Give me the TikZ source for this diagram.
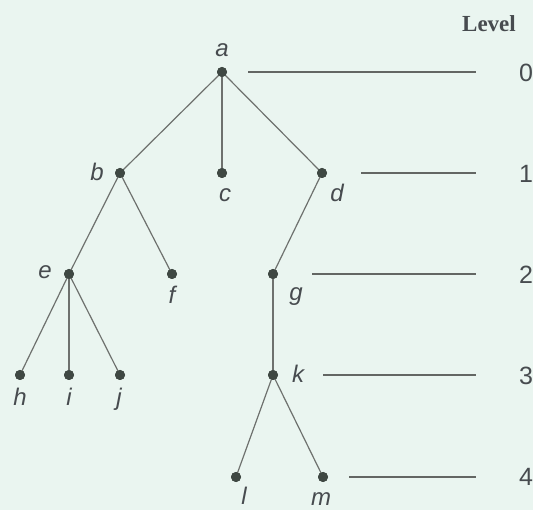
\documentclass[tikz,border=0pt]{standalone}
\usepackage{fontspec}
\setmainfont{Liberation Sans}
\newfontfamily\lvlfont{Liberation Serif}
\definecolor{bgc}{HTML}{EAF5F0}
\definecolor{dotc}{HTML}{3F4843}
\definecolor{edgec}{HTML}{6E716E}
\definecolor{txtc}{HTML}{474B4F}
\begin{document}
\begin{tikzpicture}[x=1pt,y=-1pt,
  vtx/.style={circle,fill=dotc,inner sep=0pt,minimum size=10pt},
  edge/.style={draw=edgec,line width=1.2pt},
  lvline/.style={draw=edgec!90!black,line width=1.2pt},
  lab/.style={text=txtc,font=\fontsize{24}{24}\selectfont\itshape,inner sep=0pt},
  num/.style={text=txtc,font=\fontsize{25}{25}\selectfont,inner sep=0pt}]
\fill[bgc] (0,0) rectangle (533,510);
\useasboundingbox (0,0) rectangle (533,510);
% vertices
\node[vtx] (a) at (222,72) {};
\node[vtx] (b) at (120,173) {};
\node[vtx] (c) at (222,173) {};
\node[vtx] (d) at (322,173) {};
\node[vtx] (e) at (69,274) {};
\node[vtx] (f) at (172,274) {};
\node[vtx] (g) at (273,274) {};
\node[vtx] (h) at (20,375) {};
\node[vtx] (i) at (69,375) {};
\node[vtx] (j) at (120,375) {};
\node[vtx] (k) at (273,375) {};
\node[vtx] (l) at (236,477) {};
\node[vtx] (m) at (323,477) {};
% edges
\draw[edge] (a.center) -- (b.center);
\draw[edge] (a.center) -- (c.center);
\draw[edge] (a.center) -- (d.center);
\draw[edge] (b.center) -- (e.center);
\draw[edge] (b.center) -- (f.center);
\draw[edge] (d.center) -- (g.center);
\draw[edge] (e.center) -- (h.center);
\draw[edge] (e.center) -- (i.center);
\draw[edge] (e.center) -- (j.center);
\draw[edge] (g.center) -- (k.center);
\draw[edge] (k.center) -- (l.center);
\draw[edge] (k.center) -- (m.center);
\foreach \v in {a,b,c,d,e,f,g,h,i,j,k,l,m} {\node[vtx] at (\v) {};}
% labels
\node[lab] (la) at (222,50) {a};
\node[lab] (lb) at (97,172) {b};
\node[lab] (lc) at (225,195) {c};
\node[lab] (ld) at (337,193) {d};
\node[lab] (le) at (45,272) {e};
\node[lab] (lf) at (172,295) {f};
\node[lab] (lg) at (296,297) {g};
\node[lab] (lh) at (20,397) {h};
\node[lab] (li) at (69,397) {i};
\node[lab] (lj) at (119,399) {j};
\node[lab] (lk) at (298,374) {k};
\node[lab] (ll) at (244,496) {l};
\node[lab] (lm) at (321,499) {m};
% level lines
\coordinate (s0) at (248,72);  \coordinate (e0) at (476,72);
\coordinate (s1) at (361,173); \coordinate (e1) at (476,173);
\coordinate (s2) at (312,274); \coordinate (e2) at (476,274);
\coordinate (s3) at (323,375); \coordinate (e3) at (476,375);
\coordinate (s4) at (349,477); \coordinate (e4) at (476,477);
\draw[lvline] (s0) -- (e0);
\draw[lvline] (s1) -- (e1);
\draw[lvline] (s2) -- (e2);
\draw[lvline] (s3) -- (e3);
\draw[lvline] (s4) -- (e4);
\node[num] (n0) at (526,73) {0};
\node[num] (n1) at (526,174) {1};
\node[num] (n2) at (526,275) {2};
\node[num] (n3) at (526,376) {3};
\node[num] (n4) at (526,477) {4};
\node[text=txtc,font=\lvlfont\bfseries\fontsize{23}{23}\selectfont,inner sep=0pt] (lvl) at (489,24) {Level};
\end{tikzpicture}
\end{document}
